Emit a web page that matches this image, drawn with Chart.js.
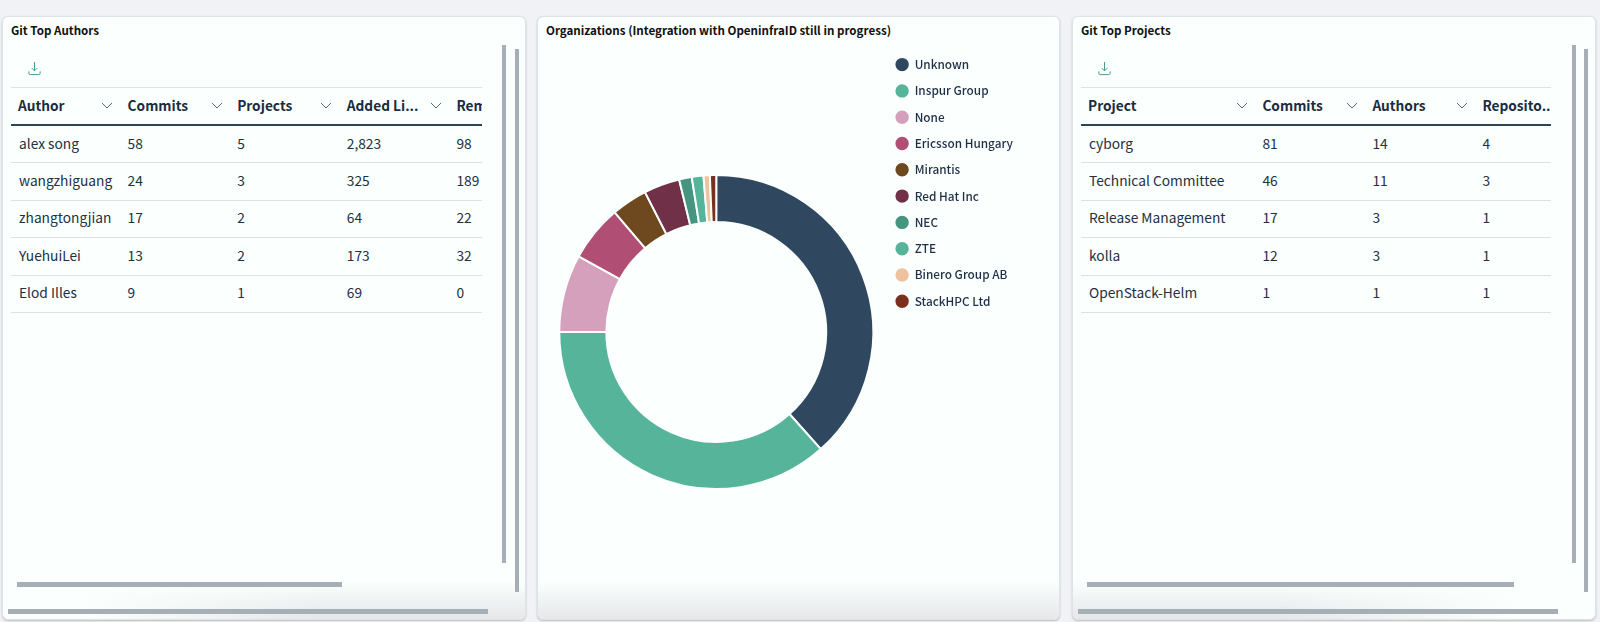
<!DOCTYPE html>
<html>
<head>
<meta charset="utf-8">
<script src="https://cdn.jsdelivr.net/npm/chart.js@4"></script>
<style>
    html, body { margin: 0; width: 1600px; height: 622px; overflow: hidden; background: #f0f2f5; }
    body { font-family: "Noto Sans CJK SC", "Noto Sans", sans-serif; color: #1d2c40; }
    .panel { position: absolute; top: 16px; height: 604px; box-sizing: border-box; background: #fbfffe; border: 1px solid #dfe2e6; border-radius: 6px; overflow: hidden; box-shadow: 0 1px 2px rgba(0,0,0,.22); }
    #panelAuthors { left: 2px; width: 524px; }
    #panelOrgs { left: 537px; width: 523px; }
    #panelProjects { left: 1072px; width: 524px; }
    .title { position: absolute; top: 4px; font-size: 11.6px; font-weight: 700; line-height: 18px; color: #111; white-space: nowrap; }
    .shade { position: absolute; left: 0; right: 0; bottom: 0; height: 38px; background: linear-gradient(to bottom, rgba(229,231,232,0), rgba(229,231,232,1)); }
    .bar { position: absolute; background: #a6afb6; }
    .icon { position: absolute; top: 44px; width: 15px; height: 15px; }
    table { position: absolute; top: 70px; border-collapse: collapse; table-layout: fixed; font-size: 13.75px; color: #22303f; }
    th { height: 36px; padding: 0; text-align: left; font-weight: 700; font-size: 13.7px; color: #1b2b40; border-top: 1px solid #e0e3e6; border-bottom: 2px solid #2f4356; position: relative; white-space: nowrap; overflow: hidden; }
    td { height: 36.4px; padding: 0; border-bottom: 1px solid #dfe2e5; white-space: nowrap; overflow: hidden; }
    th span { position: absolute; left: 7px; top: 7px; }
    td span { display: block; padding-left: 7px; position: relative; top: -1.5px; }
    td:first-child span { padding-left: 8px; }
    th svg { position: absolute; top: 14px; }
    canvas { position: absolute; }
</style>
</head>
<body>
<div class="panel" id="panelAuthors">
    <div class="title" style="left:8px">Git Top Authors</div>
    <div class="shade" style="-webkit-mask-image:linear-gradient(to right,transparent 15%,#000 60%)"></div>
</div>
<div class="panel" id="panelOrgs">
    <div class="title" style="left:8px">Organizations (Integration with OpeninfraID still in progress)</div>
    <div class="shade"></div>
    <canvas id="orgChart"></canvas>
</div>
<div class="panel" id="panelProjects">
    <div class="title" style="left:8px">Git Top Projects</div>
    <div class="shade" style="-webkit-mask-image:linear-gradient(to left,transparent 15%,#000 60%)"></div>
</div>

<script>
const orgLabels = ["Unknown", "Inspur Group", "None", "Ericsson Hungary", "Mirantis", "Red Hat Inc", "NEC", "ZTE", "Binero Group AB", "StackHPC Ltd"];
const orgValues = [38.4, 36.6, 8, 5.8, 3.7, 3.7, 1.3, 1.2, 0.65, 0.65];
const orgColors = ["#2f4860", "#56b49a", "#d5a0bb", "#b04f73", "#6e481f", "#6f3048", "#459580", "#56b49a", "#efc29d", "#7a2f1f"];

const authorHeaders = ["Author", "Commits", "Projects", "Added Li...", "Removed Lines"];
const authorNames = ["alex song", "wangzhiguang", "zhangtongjian", "YuehuiLei", "Elod Illes"];
const authorCommits = ["58", "24", "17", "13", "9"];
const authorProjects = ["5", "3", "2", "2", "1"];
const authorAdded = ["2,823", "325", "64", "173", "69"];
const authorRemoved = ["98", "189", "22", "32", "0"];

const projectHeaders = ["Project", "Commits", "Authors", "Reposito.."];
const projectNames = ["cyborg", "Technical Committee", "Release Management", "kolla", "OpenStack-Helm"];
const projectCommits = ["81", "46", "17", "12", "1"];
const projectAuthors = ["14", "11", "3", "3", "1"];
const projectRepos = ["4", "3", "1", "1", "1"];

const chevron = '<svg width="12" height="7" viewBox="0 0 12 7" style="left:RIGHTpx"><polyline points="1,1 6,6 11,1" fill="none" stroke="#5a6775" stroke-width="1"/></svg>';
const downloadIcon = '<polyline points="8,1 8,10" /><polyline points="5,7.5 8,10.5 11,7.5" /><path d="M2,11 v2 a1.5,1.5 0 0 0 1.5,1.5 h9 a1.5,1.5 0 0 0 1.5,-1.5 v-2" />';

function buildTable(panelId, left, width, colWidths, headers, columns, chevronOffset) {
    const panel = document.getElementById(panelId);
    const table = document.createElement("table");
    table.style.left = left + "px";
    table.style.width = width + "px";
    let html = "<colgroup>" + colWidths.map(w => `<col style="width:${w}px">`).join("") + "</colgroup><tr>";
    headers.forEach((h, i) => {
        const hasChevron = i < chevronOffset.length;
        const icon = hasChevron ? chevron.replace("RIGHT", chevronOffset[i]) : "";
        html += `<th><span>${h}</span>${icon}</th>`;
    });
    html += "</tr>";
    columns[0].forEach((_, r) => {
        html += "<tr>" + columns.map(c => `<td><span>${c[r]}</span></td>`).join("") + "</tr>";
    });
    table.innerHTML = html;
    panel.appendChild(table);
}

function addBars(panelId, bars) {
    const panel = document.getElementById(panelId);
    bars.forEach(b => {
        const el = document.createElement("div");
        el.className = "bar";
        el.style.cssText = `left:${b[0]}px;top:${b[1]}px;width:${b[2]}px;height:${b[3]}px`;
        panel.appendChild(el);
    });
}

function addIcon(panelId, left) {
    const svg = `<svg class="icon" style="left:${left}px" viewBox="0 0 16 16" fill="none" stroke="#3f9488" stroke-width="1">${downloadIcon}</svg>`;
    document.getElementById(panelId).insertAdjacentHTML("beforeend", svg);
}

buildTable("panelAuthors", 8, 471, [109.6, 109.6, 109.6, 109.6, 32.6], authorHeaders,
    [authorNames, authorCommits, authorProjects, authorAdded, authorRemoved], [90, 90, 90, 90]);
buildTable("panelProjects", 8, 470, [174.4, 110, 110, 75.6], projectHeaders,
    [projectNames, projectCommits, projectAuthors, projectRepos], [155, 91, 91]);

addBars("panelAuthors", [[498.7, 28, 4, 518], [512, 32, 4, 543], [14, 565, 325, 5], [5, 592, 480, 5]]);
addBars("panelProjects", [[498.6, 28, 4, 518], [511.4, 32, 4, 543], [14, 565, 427, 5], [5, 592, 480, 5]]);
addIcon("panelAuthors", 23.5);
addIcon("panelProjects", 23.5);

const canvas = document.getElementById("orgChart");
canvas.style.left = "11.5px";
canvas.style.top = "27.5px";
canvas.style.width = "473px";
canvas.style.height = "574px";

// white ring around the slices must not show on the legend dots
function orgLegendLabels(chart) {
    return Chart.overrides.doughnut.plugins.legend.labels.generateLabels(chart).map(l => ({ ...l, lineWidth: 0 }));
}

new Chart(canvas, {
    type: "doughnut",
    data: {
        labels: orgLabels,
        datasets: [{
            data: orgValues,
            backgroundColor: orgColors,
            borderColor: "#fbfffe",
            borderWidth: 2
        }]
    },
    options: {
        responsive: false,
        animation: false,
        radius: 157,
        cutout: "70%",
        plugins: {
            tooltip: { enabled: false },
            legend: {
                position: "right",
                align: "start",
                labels: {
                    generateLabels: orgLegendLabels,
                    useBorderRadius: true,
                    borderRadius: 6.7,
                    boxHeight: 13.4,
                    boxWidth: 13.4,
                    padding: 12.9,
                    color: "#1f2f46",
                    font: { family: '"Noto Sans CJK SC", "Noto Sans", sans-serif', size: 11.8, weight: 500 }
                }
            }
        }
    }
});
</script>
</body>
</html>
